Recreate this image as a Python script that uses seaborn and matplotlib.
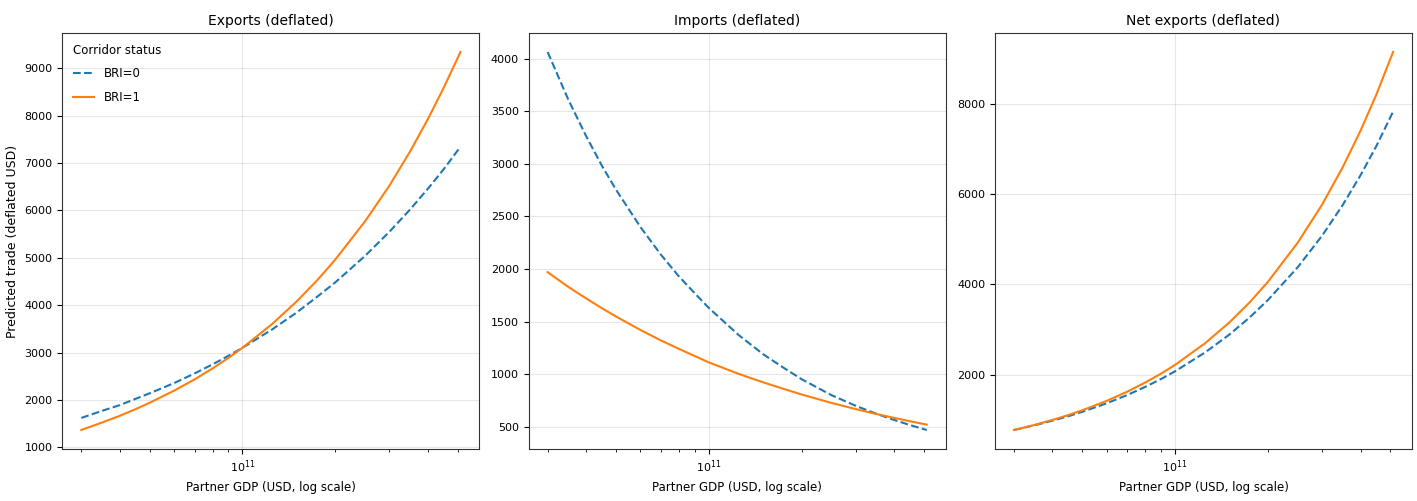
import matplotlib
matplotlib.use("Agg")
import matplotlib.pyplot as plt
import seaborn as sns
import pandas as pd

# Partner GDP grid (USD)
gdp = [3.0e10, 3.5e10, 4.0e10, 4.5e10, 5.0e10, 6.0e10, 7.0e10, 8.0e10, 9.0e10, 1.0e11,
       1.25e11, 1.5e11, 1.75e11, 2.0e11, 2.5e11, 3.0e11, 3.5e11, 4.0e11, 4.5e11, 5.1e11]

# Predicted trade (deflated USD)
exports_bri0 = [1620, 1769, 1890, 2023, 2140, 2355, 2560, 2750, 2930, 3100,
                3490, 3845, 4180, 4480, 5040, 5550, 6020, 6460, 6870, 7345]
exports_bri1 = [1365, 1522, 1665, 1805, 1940, 2195, 2435, 2665, 2885, 3100,
                3605, 4080, 4529, 4960, 5770, 6525, 7245, 7930, 8590, 9345]
imports_bri0 = [4065, 3613, 3265, 2983, 2755, 2400, 2135, 1930, 1770, 1630,
                1372, 1190, 1060, 952, 800, 698, 622, 563, 515, 468]
imports_bri1 = [1970, 1830, 1720, 1627, 1548, 1420, 1320, 1240, 1172, 1112,
                1002, 922, 859, 806, 726, 667, 620, 583, 551, 519]
net_bri0 = [780, 884, 986, 1084, 1182, 1371, 1554, 1733, 1906, 2077,
            2492, 2889, 3275, 3651, 4378, 5076, 5755, 6415, 7058, 7820]
net_bri1 = [780, 892, 1002, 1109, 1216, 1424, 1628, 1829, 2025, 2220,
            2695, 3157, 3609, 4053, 4921, 5763, 6590, 7401, 8196, 9140]

panel_titles = ["Exports (deflated)", "Imports (deflated)", "Net exports (deflated)"]
group_labels = ["BRI=0", "BRI=1"]
panels = [(exports_bri0, exports_bri1), (imports_bri0, imports_bri1), (net_bri0, net_bri1)]

palette = {"BRI=0": "#1f77b4", "BRI=1": "#ff7f0e"}
dashes = {"BRI=0": (3.7, 1.6), "BRI=1": ""}

fig, axes = plt.subplots(1, 3, figsize=(14.17, 5.01), dpi=100)
fig.subplots_adjust(left=0.044, right=0.9965, top=0.934, bottom=0.104, wspace=0.118)

for i, (ax, title, (s0, s1)) in enumerate(zip(axes, panel_titles, panels)):
    df = pd.DataFrame({
        "gdp": gdp + gdp,
        "value": s0 + s1,
        "Corridor status": [group_labels[0]] * len(gdp) + [group_labels[1]] * len(gdp),
    })
    sns.lineplot(data=df, x="gdp", y="value", hue="Corridor status", style="Corridor status",
                 palette=palette, dashes=dashes, linewidth=1.5, ax=ax, legend=(i == 0),
                 errorbar=None)
    ax.set_xscale("log")
    ax.set_title(title, fontsize=10)
    ax.set_xlabel("Partner GDP (USD, log scale)", fontsize=8.5)
    ax.set_ylabel("Predicted trade (deflated USD)" if i == 0 else "", fontsize=9)
    ax.tick_params(axis="both", labelsize=8)
    ax.grid(True, which="major", color="#b0b0b0", alpha=0.3, linewidth=0.8)
    for sp in ax.spines.values():
        sp.set_color("#333333")

sns.move_legend(axes[0], "upper left", title="Corridor status", frameon=False,
                fontsize=8.5, title_fontsize=8.5, alignment="left",
                labelspacing=0.9, handlelength=1.8)

fig.savefig("out.png", dpi=100)
